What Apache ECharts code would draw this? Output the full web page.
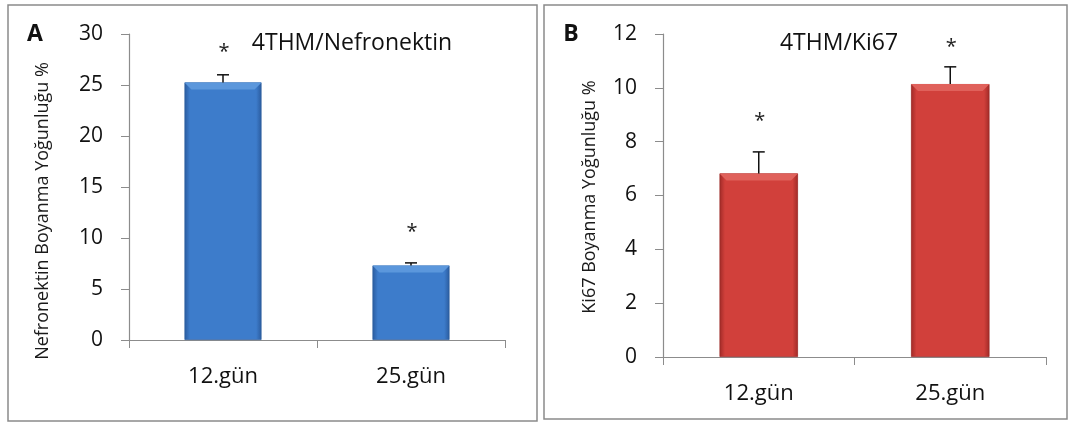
<!DOCTYPE html>
<html>
<head>
<meta charset="utf-8">
<script src="https://cdn.jsdelivr.net/npm/echarts@6/dist/echarts.min.js"></script>
<style>
html,body{margin:0;padding:0;background:#fff;}
#c{width:1072px;height:423px;}
</style>
</head>
<body>
<div id="c"></div>
<script>
const categories = ['12.gün', '25.gün'];
const nefronektinMean = [25.25, 7.3];
const nefronektinErr = [0.75, 0.26];
const nefronektinStar = [28.6, 11.0];
const ki67Mean = [6.82, 10.14];
const ki67Err = [0.8, 0.64];
const ki67Star = [8.92, 11.65];
const yTicksA = { min: 0, max: 30, interval: 5 };
const yTicksB = { min: 0, max: 12, interval: 2 };
const titleA = '4THM/Nefronektin';
const titleB = '4THM/Ki67';
const yNameA = 'Nefronektin Boyanma Yoğunluğu %';
const yNameB = 'Ki67 Boyanma Yoğunluğu %';

const FONT = '"Open Sans", "Noto Sans", sans-serif';
const BAR_W = 0.41;
const chart = echarts.init(document.getElementById('c'), null, { renderer: 'canvas' });

function grad(edge, mid) {
  return new echarts.graphic.LinearGradient(0, 0, 1, 0, [
    { offset: 0, color: edge }, { offset: 0.07, color: mid },
    { offset: 0.93, color: mid }, { offset: 1, color: edge }
  ]);
}
function bevelRender(light) {
  return function (params, api) {
    const p = api.coord([api.value(0), api.value(1)]);
    const w = api.size([1, 0])[0] * BAR_W;
    const x0 = p[0] - w / 2, x1 = p[0] + w / 2, y = p[1], d = 7;
    return { type: 'polygon', z2: 10, shape: { points: [[x0, y], [x1, y], [x1 - d, y + d], [x0 + d, y + d]] },
      style: { fill: light } };
  };
}
function errRender(params, api) {
  const i = api.value(0), m = api.value(1), e = api.value(2);
  const p0 = api.coord([i, m]), p1 = api.coord([i, m + e]);
  const w = 6;
  const st = { stroke: '#111', lineWidth: 1.5 };
  return { type: 'group', children: [
    { type: 'line', shape: { x1: p0[0], y1: p0[1], x2: p1[0], y2: p1[1] }, style: st },
    { type: 'line', shape: { x1: p1[0] - w, y1: p1[1], x2: p1[0] + w, y2: p1[1] }, style: st }
  ]};
}
function starRender(params, api) {
  const p = api.coord([api.value(0), api.value(1)]);
  return { type: 'text', x: p[0] + 1, y: p[1] + 4, style: {
    text: '*', align: 'center', verticalAlign: 'middle', fontSize: 20,
    fontFamily: FONT, fill: '#222' } };
}
function xAxis(gi) {
  return { type: 'category', gridIndex: gi, data: categories,
    axisLine: { lineStyle: { color: '#8c8c8c', width: 1.2 } },
    axisTick: { show: true, length: 8, lineStyle: { color: '#8c8c8c' } },
    axisLabel: { color: '#111', fontSize: 22, fontFamily: FONT, margin: 26 } };
}
function yAxis(gi, t) {
  return { type: 'value', gridIndex: gi, min: t.min, max: t.max, interval: t.interval,
    splitLine: { show: false },
    axisLine: { show: true, lineStyle: { color: '#8c8c8c', width: 1.2 } },
    axisTick: { show: true, length: 8, lineStyle: { color: '#8c8c8c' } },
    axisLabel: { color: '#111', fontSize: 21, fontFamily: FONT, margin: 26 } };
}

const option = {
  animation: false,
  backgroundColor: '#ffffff',
  grid: [
    { left: 129, top: 34, width: 376, height: 306 },
    { left: 663, top: 34, width: 383, height: 323 }
  ],
  xAxis: [xAxis(0), xAxis(1)],
  yAxis: [yAxis(0, yTicksA), yAxis(1, yTicksB)],
  series: [
    { type: 'bar', xAxisIndex: 0, yAxisIndex: 0, data: nefronektinMean, barWidth: (BAR_W * 100) + '%', z: 2,
      itemStyle: { color: grad('#2a5b9e', '#3d7ccb'), borderColor: '#2f5f9f', borderWidth: 0.8 } },
    { type: 'custom', xAxisIndex: 0, yAxisIndex: 0, renderItem: bevelRender('#5b97dc'), z: 3,
      encode: { x: 0, y: 1 }, data: nefronektinMean.map((v, i) => [i, v]) },
    { type: 'custom', xAxisIndex: 0, yAxisIndex: 0, renderItem: errRender, z: 4,
      encode: { x: 0, y: 1 },
      data: nefronektinMean.map((v, i) => [i, v, nefronektinErr[i]]) },
    { type: 'custom', xAxisIndex: 0, yAxisIndex: 0, renderItem: starRender, z: 5,
      encode: { x: 0, y: 1 },
      data: nefronektinStar.map((v, i) => [i, v]) },
    { type: 'bar', xAxisIndex: 1, yAxisIndex: 1, data: ki67Mean, barWidth: (BAR_W * 100) + '%', z: 2,
      itemStyle: { color: grad('#a02a27', '#d1403b'), borderColor: '#9c2a27', borderWidth: 0.8 } },
    { type: 'custom', xAxisIndex: 1, yAxisIndex: 1, renderItem: bevelRender('#e0615b'), z: 3,
      encode: { x: 0, y: 1 }, data: ki67Mean.map((v, i) => [i, v]) },
    { type: 'custom', xAxisIndex: 1, yAxisIndex: 1, renderItem: errRender, z: 4,
      encode: { x: 0, y: 1 },
      data: ki67Mean.map((v, i) => [i, v, ki67Err[i]]) },
    { type: 'custom', xAxisIndex: 1, yAxisIndex: 1, renderItem: starRender, z: 5,
      encode: { x: 0, y: 1 },
      data: ki67Star.map((v, i) => [i, v]) }
  ],
  graphic: [
    { type: 'rect', shape: { x: 8, y: 5, width: 529, height: 416 }, z: -1,
      style: { fill: 'none', stroke: '#8a8a8a', lineWidth: 1.5 } },
    { type: 'rect', shape: { x: 544, y: 5, width: 523, height: 414 }, z: -1,
      style: { fill: 'none', stroke: '#8a8a8a', lineWidth: 1.5 } },
    { type: 'text', x: 35, y: 34, style: { text: 'A', align: 'center', verticalAlign: 'middle',
      fontSize: 23, fontWeight: 'bold', fontFamily: FONT, fill: '#111' } },
    { type: 'text', x: 571, y: 34, style: { text: 'B', align: 'center', verticalAlign: 'middle',
      fontSize: 23, fontWeight: 'bold', fontFamily: FONT, fill: '#111' } },
    { type: 'text', x: 352, y: 43, style: { text: titleA, align: 'center', verticalAlign: 'middle',
      fontSize: 23, fontFamily: FONT, fill: '#111' } },
    { type: 'text', x: 839, y: 43, style: { text: titleB, align: 'center', verticalAlign: 'middle',
      fontSize: 23, fontFamily: FONT, fill: '#111' } },
    { type: 'text', x: 43, y: 211, rotation: Math.PI / 2, style: { text: yNameA, align: 'center',
      verticalAlign: 'middle', fontSize: 18, fontFamily: FONT, fill: '#1a1a1a' } },
    { type: 'text', x: 590, y: 197, rotation: Math.PI / 2, style: { text: yNameB, align: 'center',
      verticalAlign: 'middle', fontSize: 18, fontFamily: FONT, fill: '#1a1a1a' } }
  ]
};
chart.setOption(option);
</script>
</body>
</html>
